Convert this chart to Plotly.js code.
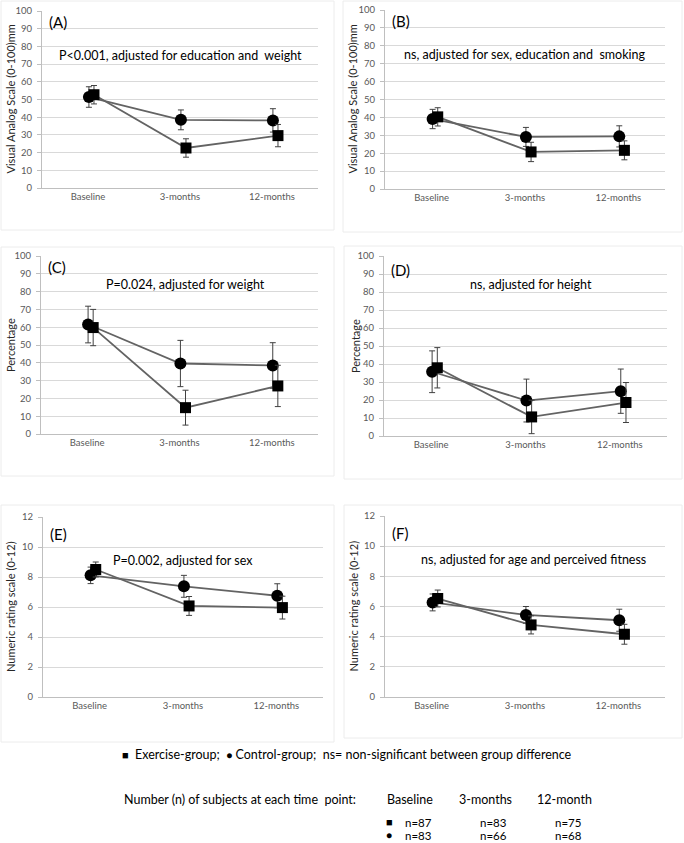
<!DOCTYPE html>
<html><head><meta charset="utf-8">
<script src="https://cdn.plot.ly/plotly-3.0.1.min.js"></script>
<style>html,body{margin:0;padding:0;background:#fff}#chart{width:684px;height:843px}</style>
</head><body><div id="chart"></div>
<script>
// ---------- data ----------
const categories = ['Baseline', '3-months', '12-months'];
const panelLabels = ['(A)', '(B)', '(C)', '(D)', '(E)', '(F)'];
const panelNotes = [
  'P<0.001, adjusted for education and  weight',
  'ns, adjusted for sex, education and  smoking',
  'P=0.024, adjusted for weight',
  'ns, adjusted for height',
  'P=0.002, adjusted for sex',
  'ns, adjusted for age and perceived fitness'
];
const yTitles = ['Visual Analog Scale (0-100)mm', 'Visual Analog Scale (0-100)mm', 'Percentage', 'Percentage',
  'Numeric rating scale (0-12)', 'Numeric rating scale (0-12)'];

// Exercise-group (squares) means and error
const exA = [52.7, 22.6, 29.6];   const exA_err = [5.2, 5.2, 6.3];
const exB = [40.3, 20.7, 21.6];   const exB_err = [5.1, 5.4, 5.3];
const exC = [59.8, 14.8, 27.0];   const exC_err = [10.2, 9.8, 11.6];
const exD = [37.9, 10.6, 18.6];   const exD_err = [11.2, 9.3, 11.1];
const exE = [8.50, 6.07, 5.96];   const exE_err = [0.50, 0.63, 0.76];
const exF = [6.53, 4.78, 4.16];   const exF_err = [0.56, 0.60, 0.66];
// Control-group (circles) means and error
const ctA = [51.4, 38.5, 38.2];   const ctA_err = [5.8, 5.6, 6.6];
const ctB = [39.1, 29.1, 29.4];   const ctB_err = [5.4, 5.3, 5.9];
const ctC = [61.5, 39.6, 38.5];   const ctC_err = [10.3, 13.0, 12.8];
const ctD = [35.7, 19.7, 24.9];   const ctD_err = [11.6, 11.9, 12.3];
const ctE = [8.11, 7.38, 6.75];   const ctE_err = [0.55, 0.73, 0.80];
const ctF = [6.27, 5.44, 5.09];   const ctF_err = [0.56, 0.56, 0.73];

const legendText = 'Exercise-group;  ';
const legendText2 = 'Control-group;  ns= non-significant between group difference';
const tableTitle = 'Number (n) of subjects at each time  point:';
const tableHeaders = ['Baseline', '3-months', '12-month'];
const nExercise = ['n=87', 'n=83', 'n=75'];
const nControl = ['n=83', 'n=66', 'n=68'];

// ---------- layout geometry (pixels) ----------
const W = 684, H = 843;
const boxes = [ // plot areas [left, right, top, bottom]
  [42, 318, 11, 188], [385, 665, 10, 189],
  [41, 318, 256, 434], [384, 667, 256, 436],
  [43, 323, 517, 697], [385, 665, 516, 697]
];
const frames = [ // chart-area borders [l, r, t, b]
  [1, 334, 1, 230], [343, 682, 1, 232],
  [1, 334, 247, 476], [344, 682, 246, 479],
  [1, 334, 505, 742], [344, 682, 505, 738]
];
const yMax = [100, 100, 100, 100, 12, 12];
const yStep = [10, 10, 10, 10, 2, 2];
const labelY = [94, 94, 93.8, 92, 10.9, 10.9];
const noteY = [75, 75, 84, 84.4, 9.1, 9.1];
const noteX = [0.5, 0.5, 0.52, 0.52, 0.5, 0.53];
const yTitleX = [10, 352, 10, 355, 10, 353];

const exAll = [exA, exB, exC, exD, exE, exF];
const exErr = [exA_err, exB_err, exC_err, exD_err, exE_err, exF_err];
const ctAll = [ctA, ctB, ctC, ctD, ctE, ctF];
const ctErr = [ctA_err, ctB_err, ctC_err, ctD_err, ctE_err, ctF_err];

const FONT = 'Lato, "Open Sans", sans-serif';
const traces = [];
const layout = {
  width: W, height: H, margin: {l: 0, r: 0, t: 0, b: 0},
  paper_bgcolor: '#fff', plot_bgcolor: 'rgba(0,0,0,0)',
  showlegend: false, font: {family: FONT, color: '#000'},
  annotations: [], shapes: []
};

const xs = categories.map((c, i) => i + 1);
for (let p = 0; p < 6; p++) {
  const n = p === 0 ? '' : String(p + 1);
  const xa = 'x' + n, ya = 'y' + n;
  const [l, r, t, b] = boxes[p];
  layout['xaxis' + n] = {
    domain: [l / W, r / W], range: [0.5, 3.5], anchor: ya,
    tickvals: xs, ticktext: categories, showgrid: false, zeroline: false,
    showline: true, linecolor: '#bfbfbf', linewidth: 1, ticks: '',
    tickfont: {size: 9.5, color: '#595959', family: FONT}, fixedrange: true
  };
  layout['yaxis' + n] = {
    domain: [1 - b / H, 1 - t / H], range: [0, yMax[p]], anchor: xa, dtick: yStep[p], tick0: 0,
    showgrid: true, gridcolor: '#d9d9d9', gridwidth: 1, zeroline: false,
    showline: true, linecolor: '#bfbfbf', linewidth: 1, ticks: 'outside', ticklen: 4, tickcolor: '#bfbfbf',
    ticklabelstandoff: 3,
    tickfont: {size: 9.5, color: '#595959', family: FONT}, fixedrange: true
  };
  traces.push({
    type: 'scatter', mode: 'lines+markers', xaxis: xa, yaxis: ya,
    x: xs.map(v => v + 0.01), y: ctAll[p],
    error_y: {type: 'data', array: ctErr[p], visible: true, color: '#404040', thickness: 1, width: 3},
    line: {color: '#636363', width: 1.8},
    marker: {symbol: 'circle', size: 12, color: '#000'}
  });
  traces.push({
    type: 'scatter', mode: 'lines+markers', xaxis: xa, yaxis: ya,
    x: xs.map(v => v + 0.065), y: exAll[p],
    error_y: {type: 'data', array: exErr[p], visible: true, color: '#404040', thickness: 1, width: 3},
    line: {color: '#636363', width: 1.8},
    marker: {symbol: 'square', size: 11, color: '#000'}
  });
  layout.annotations.push({
    xref: xa + ' domain', yref: ya, x: 0.018, y: labelY[p], xanchor: 'left', yanchor: 'middle',
    text: panelLabels[p], showarrow: false, font: {size: 15, family: FONT, color: '#000'}
  });
  layout.annotations.push({
    xref: xa + ' domain', yref: ya, x: noteX[p], y: noteY[p], xanchor: 'center', yanchor: 'middle',
    text: panelNotes[p], showarrow: false, font: {size: 12.5, family: FONT, color: '#000'}
  });
  layout.annotations.push({
    xref: 'paper', yref: ya + ' domain', x: yTitleX[p] / W, y: 0.5, xanchor: 'center', yanchor: 'middle',
    textangle: -90, text: yTitles[p], showarrow: false, font: {size: 11, family: FONT, color: '#262626'}
  });
  const [fl, fr, ft, fb] = frames[p];
  layout.shapes.push({
    type: 'rect', xref: 'paper', yref: 'paper', x0: fl / W, x1: fr / W, y0: 1 - fb / H, y1: 1 - ft / H,
    line: {color: '#ececec', width: 1}, fillcolor: 'rgba(0,0,0,0)', layer: 'below'
  });
}

// bottom legend and table
const txt = (x, y, text, size, anchor) => layout.annotations.push({
  xref: 'paper', yref: 'paper', x: x / W, y: 1 - y / H, xanchor: anchor || 'left', yanchor: 'middle',
  text: text, showarrow: false, font: {size: size, family: FONT, color: '#000'}
});
txt(120, 754, '<span style="font-size:11px">■</span>  ' + legendText +
  '<span style="font-size:10px">●</span> ' + legendText2, 12.5);
txt(122, 799, tableTitle, 12.5);
const colX = [385, 457, 535];
tableHeaders.forEach((h, i) => txt(colX[i], 799, h, 12.5));
txt(384, 821, '<span style="font-size:11px">■</span>', 12);
txt(384, 835, '<span style="font-size:10px">●</span>', 12);
const nX = [403, 478, 553];
nExercise.forEach((s, i) => txt(nX[i], 822, s, 11.5));
nControl.forEach((s, i) => txt(nX[i], 835, s, 11.5));

Plotly.newPlot('chart', traces, layout, {displayModeBar: false, staticPlot: true});
</script></body></html>
